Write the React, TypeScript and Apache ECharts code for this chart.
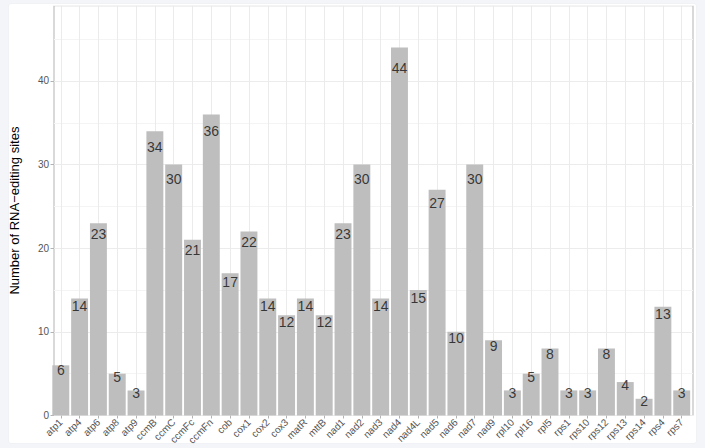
import React, { useEffect, useRef } from "react";
import * as echarts from "echarts";

const categories = [
  "atp1", "atp4", "atp6", "atp8", "atp9", "ccmB", "ccmC", "ccmFc", "ccmFn", "cob",
  "cox1", "cox2", "cox3", "matR", "mttB", "nad1", "nad2", "nad3", "nad4", "nad4L",
  "nad5", "nad6", "nad7", "nad9", "rpl10", "rpl16", "rpl5", "rps1", "rps10", "rps12",
  "rps13", "rps14", "rps4", "rps7",
];

const editingSites = [
  6, 14, 23, 5, 3, 34, 30, 21, 36, 17,
  22, 14, 12, 14, 12, 23, 30, 14, 44, 15,
  27, 10, 30, 9, 3, 5, 8, 3, 3, 8,
  4, 2, 13, 3,
];

const yMajorTicks = [0, 10, 20, 30, 40];

// label anchor: a little below each bar top (as in the reference)
const labelAnchors = editingSites.map((v) => v * 0.95 - 0.2);

const FONT = "Liberation Sans, Arial, Helvetica, sans-serif";

export default function App() {
  const ref = useRef<HTMLDivElement>(null);

  useEffect(() => {
    if (!ref.current) return;
    const chart = echarts.init(ref.current, null, { renderer: "svg" });
    const panelLeft = 49.5;
    const panelTop = 5.7;
    const panelW = 643.5;
    const panelH = 409.8;
    const pad = (panelW * 0.1) / 34.2; // ggplot-like discrete expansion

    chart.setOption({
      animation: false,
      backgroundColor: "transparent",
      textStyle: { fontFamily: FONT },
      grid: [
        {
          left: panelLeft,
          top: panelTop,
          width: panelW,
          height: panelH,
          show: true,
          borderColor: "#b3b3b3",
          borderWidth: 1,
          backgroundColor: "transparent",
        },
        {
          left: panelLeft + pad,
          top: panelTop,
          width: panelW - 2 * pad,
          height: panelH,
        },
      ],
      xAxis: [
        { gridIndex: 0, type: "value", min: 0, max: 1, show: false },
        {
          gridIndex: 1,
          type: "category",
          position: "bottom",
          data: categories,
          axisLine: { show: false },
          axisTick: {
            show: true,
            alignWithLabel: true,
            length: 3,
            lineStyle: { color: "#b3b3b3", width: 1 },
          },
          axisLabel: {
            interval: 0,
            rotate: 45,
            fontSize: 10,
            color: "#555555",
            margin: 5,
            fontFamily: FONT,
          },
          splitLine: {
            show: true,
            alignWithLabel: true,
            interval: 0,
            lineStyle: { color: "#ebebeb", width: 1 },
          },
        },
      ],
      yAxis: [
        {
          gridIndex: 0,
          type: "value",
          position: "left",
          offset: 0,
          min: 0,
          max: 49,
          interval: 5,
          axisLine: { show: false },
          axisTick: { show: false },
          axisLabel: { show: false },
          splitLine: { show: true, lineStyle: { color: "#f4f4f4", width: 1 } },
        },
        {
          gridIndex: 0,
          type: "value",
          position: "left",
          offset: 0,
          min: 0,
          max: 49,
          interval: 10,
          axisLine: { show: false },
          axisTick: {
            show: true,
            length: 3.5,
            customValues: yMajorTicks,
            lineStyle: { color: "#b3b3b3", width: 1 },
          },
          axisLabel: {
            fontSize: 10,
            color: "#555555",
            margin: 5,
            customValues: yMajorTicks,
            fontFamily: FONT,
          },
          splitLine: { show: true, lineStyle: { color: "#ececec", width: 1 } },
          name: "Number of RNA\u2212editing sites",
          nameLocation: "middle",
          nameGap: 33,
          nameRotate: 90,
          nameTextStyle: { fontSize: 13, color: "#000000", fontFamily: FONT },
        },
        {
          gridIndex: 1,
          type: "value",
          position: "left",
          min: 0,
          max: 49,
          show: false,
        },
      ],
      series: [
        {
          type: "bar",
          xAxisIndex: 1,
          yAxisIndex: 2,
          data: editingSites,
          barCategoryGap: "10%",
          itemStyle: { color: "#bebebe" },
          silent: true,
        },
        {
          type: "scatter",
          xAxisIndex: 1,
          yAxisIndex: 2,
          data: labelAnchors,
          symbolSize: 1,
          itemStyle: { color: "rgba(0,0,0,0)" },
          silent: true,
          z: 5,
          label: {
            show: true,
            position: "inside",
            formatter: (p: any) => String(editingSites[p.dataIndex]),
            fontSize: 14,
            color: "#111111",
            textBorderWidth: 0,
            textBorderColor: "transparent",
            fontFamily: FONT,
          },
        },
      ],
    });
    return () => chart.dispose();
  }, []);

  return (
    <div
      style={{
        position: "fixed",
        left: 0,
        top: 0,
        width: 705,
        height: 448,
        background: "#f4f5f8",
        overflow: "hidden",
      }}
    >
      <div
        style={{
          position: "absolute",
          left: 9,
          top: 4,
          width: 687,
          height: 439,
          background: "#ffffff",
          borderRadius: 2,
          boxShadow: "0 0 2px rgba(0,0,0,0.06)",
        }}
      />
      <div
        ref={ref}
        style={{ position: "absolute", left: 0, top: 0, width: 705, height: 448 }}
      />
    </div>
  );
}
